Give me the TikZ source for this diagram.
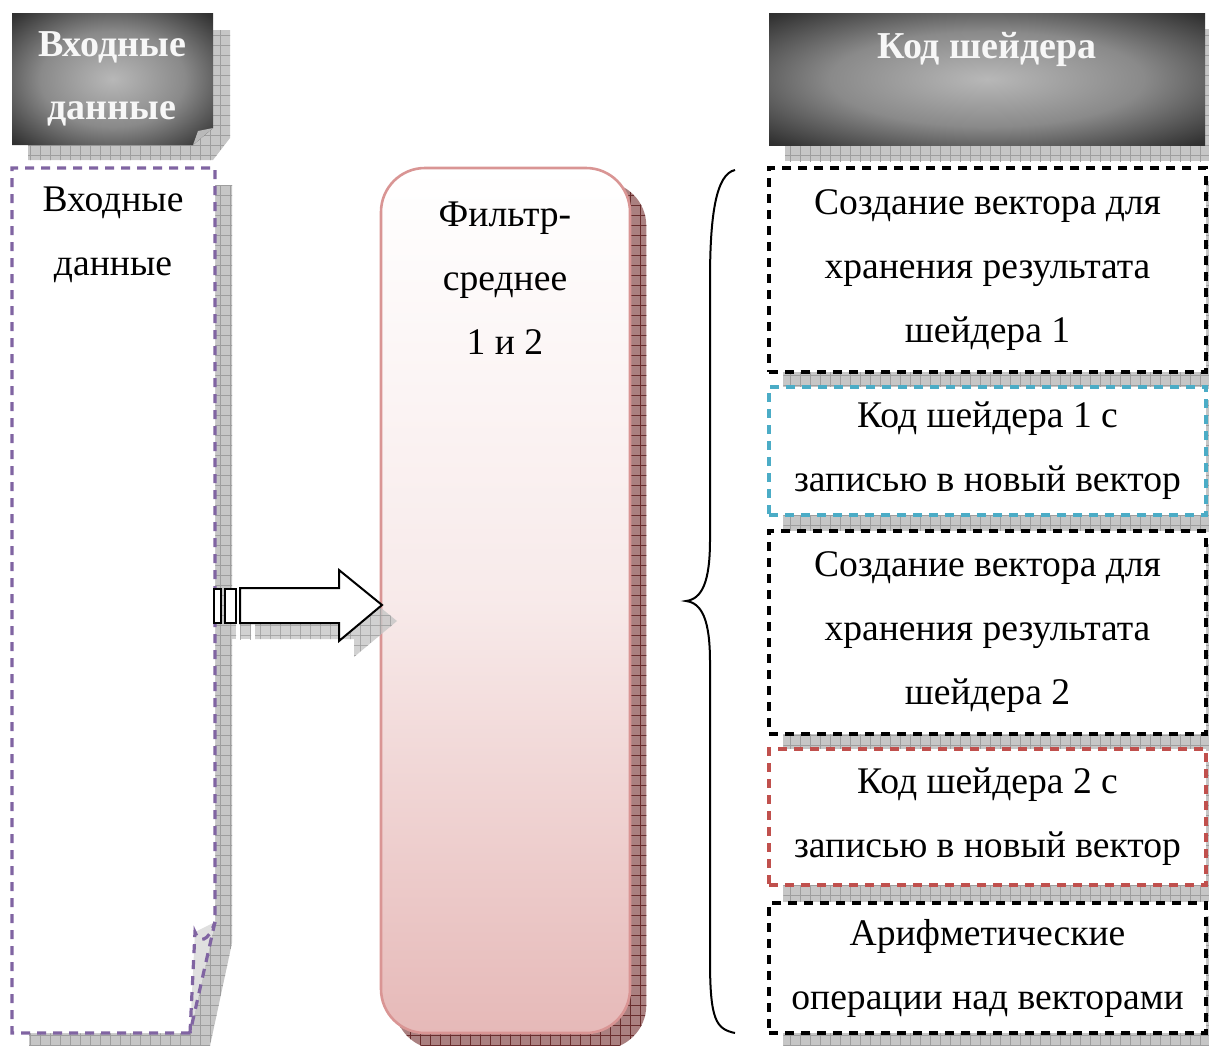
\documentclass[tikz,border=0pt]{standalone}
\usepackage{fontspec}
\setmainfont{Liberation Serif}
\usetikzlibrary{positioning, patterns.meta, backgrounds}

\definecolor{purp}{RGB}{128,100,162}
\definecolor{cyanb}{RGB}{75,172,198}
\definecolor{redb}{RGB}{192,80,77}
\definecolor{pinkb}{RGB}{217,149,148}
\definecolor{pinkf}{RGB}{230,185,184}
\definecolor{shgray}{RGB}{198,198,198}
\definecolor{shline}{RGB}{158,158,158}
\definecolor{shred}{RGB}{170,128,128}
\definecolor{shredl}{RGB}{105,45,45}

\pgfdeclareradialshading{hdrshade}{\pgfpoint{0bp}{0bp}}{color(0bp)=(black!28); color(18bp)=(black!46); color(34bp)=(black!80); color(44bp)=(black!93); color(72bp)=(black!97)}

\begin{document}
\begin{tikzpicture}[x=0.5pt, y=-0.5pt,
    txt/.style={font=\fontsize{18.8}{32}\selectfont, align=center, inner sep=0pt},
    hdrtxt/.style={font=\fontsize{19}{31.5}\selectfont\bfseries, text=white!94!gray, align=center, inner sep=0pt},
    rbox/.style={draw, dashed, dash pattern=on 4.5pt off 3.5pt, line width=1.6pt,
        fill=white, minimum width=218.5pt, inner sep=0pt, txt},
    midbox/.style={draw=pinkb, line width=1.3pt, rounded corners=22pt,
        top color=white, bottom color=pinkf, middle color=pinkf!30!white,
        minimum width=124.5pt, minimum height=432.5pt},
    shad/.style={fill=shgray,
        postaction={pattern={Lines[angle=0, distance=5pt, line width=0.4pt]}, pattern color=shline},
        postaction={pattern={Lines[angle=90, distance=5pt, line width=0.4pt]}, pattern color=shline}},
    shadr/.style={fill=shred,
        postaction={pattern={Lines[angle=0, distance=5pt, line width=0.4pt]}, pattern color=shredl},
        postaction={pattern={Lines[angle=90, distance=5pt, line width=0.4pt]}, pattern color=shredl}},
    abody/.style={draw, fill=white, line width=1pt}
]
    \useasboundingbox (0,0) rectangle (1209,1045);

    % Left header with folded corner
    \fill[shad] (28,30) -- (230,30) -- (230,138) -- (213,160) -- (28,160) -- cycle;
    \shade[shading=hdrshade] (12,13) -- (213,13) -- (213,128) -- (193,145) -- (12,145) -- cycle;
    \fill[gray!55] (193,145) -- (198,131) -- (213,128) -- cycle;
    \node[hdrtxt] (inHdr) at (112,79) {Входные\\данные};

    % Left input sheet with curl
    \fill[shad] (29,185) -- (232,185) -- (232,943) -- (207,1060) -- (29,1060) -- cycle;
    \fill[white] (12,168) -- (215,168) -- (215,922) -- (190,1033) -- (12,1033) -- cycle;
    \fill[gray!25] (195,932) -- (215,922) -- (190,1033) -- cycle;
    \draw[purp, line width=1.6pt, dash pattern=on 4.5pt off 3.5pt]
        (190,1033) -- (12,1033) -- (12,168) -- (215,168) -- (215,922) -- (190,1033);
    \draw[purp, line width=1.6pt, dash pattern=on 4.5pt off 3.5pt]
        (190,1033) -- (195,932) .. controls (199,943) and (208,943) .. (215,922);
    \node[txt] (inTxt) at (113,235) {Входные\\данные};

    % Filter block
    \node[midbox] (filt) at (505.5,600.5) {};
    \node[txt] (filtTxt) at (505,278.5) {Фильтр-\\среднее\\1 и 2};

    % Striped arrow and its shadow
    \begin{scope}[shift={(15,16)}, opacity=0.8]
        \fill[shad] (214,589) rectangle (221,623);
        \fill[shad] (225,589) rectangle (236,623);
        \fill[shad] (240,588) -- (339,588) -- (339,570) -- (382,605) -- (339,641) -- (339,623) -- (240,623) -- cycle;
    \end{scope}
    \path[abody] (214,589) rectangle (221,623);
    \path[abody] (225,589) rectangle (236,623);
    \path[abody] (240,588) -- (339,588) -- (339,570) -- (382,605) -- (339,641) -- (339,623) -- (240,623) -- cycle;

    % Brace
    \draw[line width=1pt] (735,170) .. controls (716,174) and (710,215) .. (710,280)
        -- (710,540) .. controls (710,582) and (702,599) .. (686,601)
        .. controls (702,603) and (710,620) .. (710,662)
        -- (710,960) .. controls (710,1020) and (716,1029) .. (735,1033);

    % Right header
    \fill[shad] (785,29) rectangle (1222,161);
    \shade[shading=hdrshade] (769,13) rectangle (1205,145);
    \node[hdrtxt] (codeHdr) at (987,49) {Код шейдера};

    % Shader code steps
    \node[rbox, minimum height=102pt] (s1) at (987.5,270) {Создание вектора для\\хранения результата\\шейдера 1};
    \node[rbox, draw=cyanb, minimum height=64pt] (s2) at (987.5,451) {Код шейдера 1 с\\записью в новый вектор};
    \node[rbox, minimum height=101.5pt] (s3) at (987.5,632.5) {Создание вектора для\\хранения результата\\шейдера 2};
    \node[rbox, draw=redb, minimum height=68pt] (s4) at (987.5,817) {Код шейдера 2 с\\записью в новый вектор};
    \node[rbox, minimum height=65pt] (s5) at (987.5,968) {Арифметические\\операции над векторами};

    % Shadows behind blocks
    \begin{scope}[on background layer]
        \path[shadr, rounded corners=22pt] ([shift={(15,15)}]filt.north west) rectangle ([shift={(15,15)}]filt.south east);
        \path[shad] ([shift={(16,15)}]s1.north west) rectangle ([shift={(16,15)}]s1.south east);
        \path[shad] ([shift={(16,15)}]s2.north west) rectangle ([shift={(16,15)}]s2.south east);
        \path[shad] ([shift={(16,15)}]s3.north west) rectangle ([shift={(16,15)}]s3.south east);
        \path[shad] ([shift={(16,15)}]s4.north west) rectangle ([shift={(16,15)}]s4.south east);
        \path[shad] ([shift={(16,15)}]s5.north west) rectangle ([shift={(16,15)}]s5.south east);
    \end{scope}
\end{tikzpicture}
\end{document}
